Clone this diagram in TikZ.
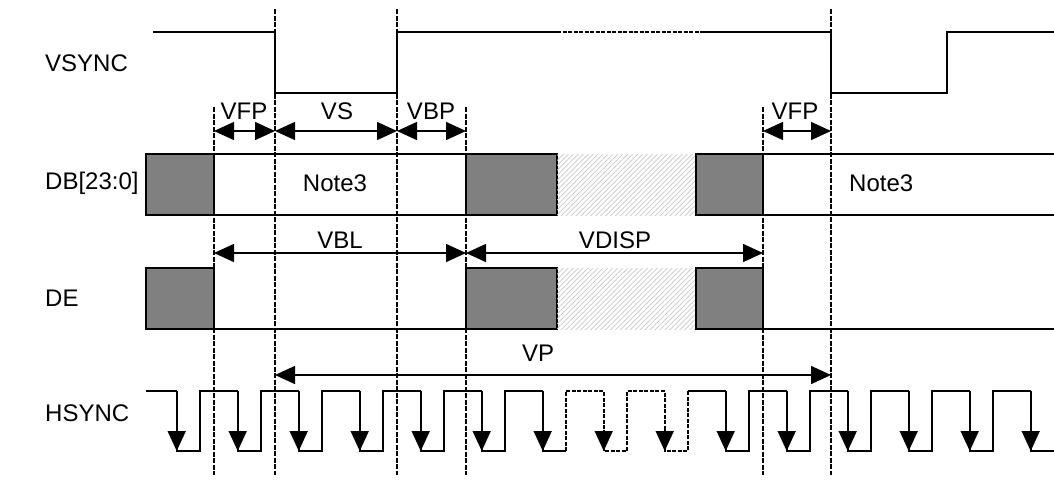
\documentclass[tikz,border=0pt]{standalone}
\usepackage{fontspec}
\setmainfont{Liberation Sans}
\usetikzlibrary{arrows.meta,patterns.meta}
\begin{document}
\begin{tikzpicture}[x=1pt,y=-1pt,
  sig/.style={line width=1.7pt, line join=miter},
  guide/.style={line width=2pt, dash pattern=on 5pt off 1.5pt},
  dashsig/.style={line width=1.7pt, dash pattern=on 4pt off 1.5pt},
  tip/.style={-{Triangle[length=20pt,width=18pt]}},
  dim/.style={line width=1.5pt, {Triangle[length=20pt,width=18pt]}-{Triangle[length=20pt,width=18pt]}},
  blk/.style={fill=black!50, draw=black, line width=1.7pt},
  hatch/.style={pattern={Lines[angle=45,distance=3.5pt,line width=0.7pt]}, pattern color=black!22},
  lbl/.style={font=\fontsize{24}{26}\selectfont, inner sep=0pt}]
\useasboundingbox (0,0) rectangle (1054,480);
% ---------- guides ----------
\coordinate (g1t) at (214,107); \coordinate (g1b) at (214,475);
\coordinate (g2t) at (275,9);   \coordinate (g2b) at (275,475);
\coordinate (g3t) at (397,9);   \coordinate (g3b) at (397,475);
\coordinate (g4t) at (466,107); \coordinate (g4b) at (466,475);
\coordinate (g5t) at (763,107); \coordinate (g5b) at (763,475);
\coordinate (g6t) at (831,9);   \coordinate (g6b) at (831,475);
% ---------- row labels ----------
\node[lbl,anchor=west] (lvs) at (45,63) {VSYNC};
\node[lbl,anchor=west] (ldb) at (45,183) {DB[23:0]};
\node[lbl,anchor=west] (lde) at (45,298) {DE};
\node[lbl,anchor=west] (lhs) at (45,413) {HSYNC};
% ---------- VSYNC ----------
\draw[sig] (153,32) -- (275,32) -- (275,93) -- (397,93) -- (397,32) -- (557,32);
\draw[dashsig] (557,32) -- (702,32);
\draw[sig] (702,32) -- (831,32) -- (831,93) -- (947,93) -- (947,32) -- (1054,32);
% ---------- DB ----------
\draw[blk] (146,154) rectangle (214,215);
\draw[sig] (214,154) -- (466,154) (214,215) -- (466,215);
\draw[blk] (466,154) rectangle (557,215);
\fill[hatch] (557,154) rectangle (696,215);
\draw[blk] (696,154) rectangle (763,215);
\draw[sig] (763,154) -- (1054,154) (763,215) -- (1054,215);
\node[lbl] (n1) at (335,183) {Note3};
\node[lbl,anchor=west] (n2) at (849,183) {Note3};
% ---------- DE ----------
\draw[blk] (146,268) rectangle (214,329);
\draw[sig] (214,329) -- (466,329);
\draw[blk] (466,268) rectangle (557,329);
\fill[hatch] (557,268) rectangle (696,329);
\draw[blk] (696,268) rectangle (763,329);
\draw[sig] (763,329) -- (1054,329);
% ---------- HSYNC ----------
\draw[sig] (146,391) -- (176.7,391);
\foreach \k in {0,...,5}{
  \pgfmathsetmacro\f{176.7+61*\k}
  \draw[sig] (\f,391) -- (\f,451) -- (\f+23,451) -- (\f+23,391) -- (\f+61,391);
}
\draw[sig] (542.7,391) -- (542.7,451) -- (565.7,451);
\draw[dashsig] (565.7,451) -- (565.7,391) -- (603.7,391) -- (603.7,451) -- (626.7,451)
  -- (626.7,391) -- (664.7,391) -- (664.7,451) -- (687.7,451) -- (687.7,391);
\draw[sig] (687.7,391) -- (725.7,391);
\foreach \k in {9,...,13}{
  \pgfmathsetmacro\f{176.7+61*\k}
  \draw[sig] (\f,391) -- (\f,451) -- (\f+23,451) -- (\f+23,391) -- (\f+61,391);
}
\draw[sig] (1030.7,391) -- (1030.7,451) -- (1054,451);
\foreach \k in {0,...,14}{
  \pgfmathsetmacro\f{176.7+61*\k}
  \draw[sig,tip] (\f,430) -- (\f,451);
}
% ---------- guides drawn ----------
\foreach \g in {1,...,6}{ \draw[guide] (g\g t) -- (g\g b); }
% ---------- dimension arrows ----------
\coordinate (a1) at (214,131); \coordinate (a2) at (275,131);
\coordinate (a3) at (397,131); \coordinate (a4) at (466,131);
\coordinate (a5) at (763,131); \coordinate (a6) at (831,131);
\draw[dim] (a1) -- (a2); \draw[dim] (a2) -- (a3);
\draw[dim] (a3) -- (a4); \draw[dim] (a5) -- (a6);
\node[lbl] (tvfp1) at (244,111) {VFP};
\node[lbl] (tvs) at (337,111) {VS};
\node[lbl] (tvbp) at (431,111) {VBP};
\node[lbl] (tvfp2) at (795,111) {VFP};
\coordinate (b1) at (214,253); \coordinate (b4) at (466,253); \coordinate (b5) at (763,253);
\draw[dim] (b1) -- (b4); \draw[dim] (b4) -- (b5);
\node[lbl] (tvbl) at (340,240) {VBL};
\node[lbl] (tvdisp) at (615,240) {VDISP};
\coordinate (c2) at (275,375); \coordinate (c6) at (831,375);
\draw[dim] (c2) -- (c6);
\node[lbl] (tvp) at (538,353) {VP};
\end{tikzpicture}
\end{document}
